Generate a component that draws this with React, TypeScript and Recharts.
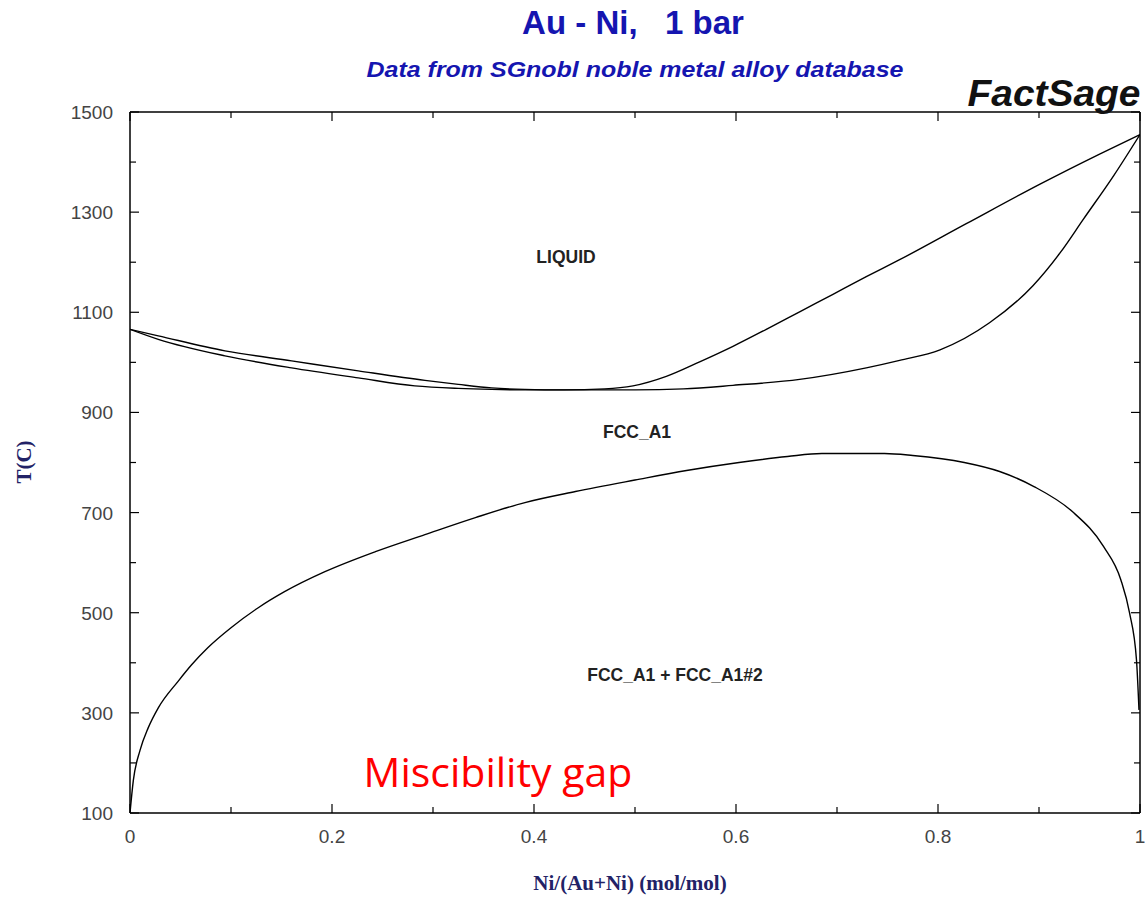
import { LineChart, Line, XAxis, YAxis } from 'recharts'

// phase boundaries: x = Ni/(Au+Ni), t = T(C)
const liquidus = [
  { x: 0, t: 1066 }, { x: 0.028, t: 1053 }, { x: 0.094, t: 1023 }, { x: 0.16, t: 1003 },
  { x: 0.226, t: 983 }, { x: 0.292, t: 964 }, { x: 0.325, t: 956 }, { x: 0.358, t: 949 },
  { x: 0.391, t: 946 }, { x: 0.43, t: 945 }, { x: 0.47, t: 947 }, { x: 0.498, t: 953 },
  { x: 0.531, t: 972 }, { x: 0.564, t: 1001 }, { x: 0.597, t: 1032 }, { x: 0.63, t: 1066 },
  { x: 0.663, t: 1101 }, { x: 0.696, t: 1136 }, { x: 0.729, t: 1171 }, { x: 0.762, t: 1205 },
  { x: 0.828, t: 1277 }, { x: 0.901, t: 1356 }, { x: 0.96, t: 1416 }, { x: 1, t: 1455 },
]

const solidus = [
  { x: 0, t: 1066 }, { x: 0.028, t: 1046 }, { x: 0.094, t: 1013 }, { x: 0.16, t: 989 },
  { x: 0.226, t: 969 }, { x: 0.282, t: 953 }, { x: 0.325, t: 948 }, { x: 0.358, t: 946 },
  { x: 0.4, t: 945 }, { x: 0.45, t: 945 }, { x: 0.5, t: 945 }, { x: 0.548, t: 947 },
  { x: 0.597, t: 954 }, { x: 0.663, t: 966 }, { x: 0.729, t: 989 }, { x: 0.762, t: 1004 },
  { x: 0.802, t: 1025 }, { x: 0.851, t: 1079 }, { x: 0.894, t: 1153 }, { x: 0.921, t: 1219 },
  { x: 0.944, t: 1286 }, { x: 0.974, t: 1373 }, { x: 1, t: 1455 },
]

const miscibilityGap = [
  { x: 0, t: 100 }, { x: 0.0033, t: 165 }, { x: 0.0099, t: 225 }, { x: 0.018, t: 270 },
  { x: 0.028, t: 310 }, { x: 0.048, t: 364 }, { x: 0.061, t: 396 }, { x: 0.077, t: 430 },
  { x: 0.1, t: 470 }, { x: 0.127, t: 510 }, { x: 0.153, t: 542 }, { x: 0.193, t: 582 },
  { x: 0.243, t: 622 }, { x: 0.292, t: 656 }, { x: 0.342, t: 690 }, { x: 0.391, t: 720 },
  { x: 0.441, t: 742 }, { x: 0.5, t: 765 }, { x: 0.551, t: 784 }, { x: 0.603, t: 800 },
  { x: 0.651, t: 812 }, { x: 0.685, t: 818 }, { x: 0.747, t: 818 }, { x: 0.775, t: 814 },
  { x: 0.826, t: 800 }, { x: 0.861, t: 782 }, { x: 0.895, t: 752 }, { x: 0.933, t: 702 },
  { x: 0.964, t: 632 }, { x: 0.981, t: 566 }, { x: 0.9896, t: 500 }, { x: 0.9965, t: 406 },
  { x: 0.999, t: 306 },
]

const xTicks = [0, 0.1, 0.2, 0.3, 0.4, 0.5, 0.6, 0.7, 0.8, 0.9, 1]
const xLabels: Record<string, string> = { '0': '0', '0.2': '0.2', '0.4': '0.4', '0.6': '0.6', '0.8': '0.8', '1': '1' }
const yTicks = [100, 200, 300, 400, 500, 600, 700, 800, 900, 1000, 1100, 1200, 1300, 1400, 1500]
const yLabels = [100, 300, 500, 700, 900, 1100, 1300, 1500]

const W = 1145
const H = 897
const tickFont = '"Liberation Sans", Arial, sans-serif'
const serif = '"Liberation Serif", "Times New Roman", serif'

const BottomTick = ({ x, y, payload }: any) => {
  const label = xLabels[String(payload.value)]
  return (
    <g>
      <line x1={x} x2={x} y1={y} y2={y - (label ? 9 : 6)} stroke="#000" strokeWidth={1.2} />
      {label && (
        <text x={x} y={y + 30} textAnchor="middle" fontSize={19} fontFamily={tickFont} fill="#444">
          {label}
        </text>
      )}
    </g>
  )
}

const TopTick = ({ x, y, payload }: any) => {
  const major = !!xLabels[String(payload.value)]
  return <line x1={x} x2={x} y1={y} y2={y + (major ? 9 : 6)} stroke="#000" strokeWidth={1.2} />
}

const LeftTick = ({ x, y, payload }: any) => {
  const major = yLabels.includes(payload.value)
  return (
    <g>
      <line x1={x} x2={x + (major ? 9 : 6)} y1={y} y2={y} stroke="#000" strokeWidth={1.2} />
      {major && (
        <text x={x - 17} y={y + 7} textAnchor="end" fontSize={19} fontFamily={tickFont} fill="#444">
          {payload.value}
        </text>
      )}
    </g>
  )
}

const RightTick = ({ x, y, payload }: any) => {
  const major = yLabels.includes(payload.value)
  return <line x1={x} x2={x - (major ? 9 : 6)} y1={y} y2={y} stroke="#000" strokeWidth={1.2} />
}

export default function App() {
  const axisLine = { stroke: '#000', strokeWidth: 1.5 }
  return (
    <div style={{ position: 'absolute', left: 0, top: 0, width: W, height: H, background: '#fff' }}>
      <LineChart width={W} height={H} margin={{ top: 111, right: 4, bottom: 83, left: 129 }}>
        <XAxis
          xAxisId="b" dataKey="x" type="number" domain={[0, 1]} ticks={xTicks} interval={0}
          height={1} tickSize={0} tickMargin={0} tickLine={false} axisLine={axisLine}
          tick={BottomTick} allowDataOverflow
        />
        <XAxis
          xAxisId="t" orientation="top" dataKey="x" type="number" domain={[0, 1]} ticks={xTicks}
          interval={0} height={1} tickSize={0} tickMargin={0} tickLine={false} axisLine={axisLine}
          tick={TopTick} allowDataOverflow
        />
        <YAxis
          yAxisId="l" type="number" domain={[100, 1500]} ticks={yTicks} interval={0}
          width={1} tickSize={0} tickMargin={0} tickLine={false} axisLine={axisLine}
          tick={LeftTick} allowDataOverflow
        />
        <YAxis
          yAxisId="r" orientation="right" type="number" domain={[100, 1500]} ticks={yTicks}
          interval={0} width={1} tickSize={0} tickMargin={0} tickLine={false} axisLine={axisLine}
          tick={RightTick} allowDataOverflow
        />
        <Line xAxisId="b" yAxisId="l" data={liquidus} dataKey="t" type="monotone" stroke="#000"
          strokeWidth={1.4} dot={false} isAnimationActive={false} />
        <Line xAxisId="b" yAxisId="l" data={solidus} dataKey="t" type="monotone" stroke="#000"
          strokeWidth={1.4} dot={false} isAnimationActive={false} />
        <Line xAxisId="b" yAxisId="l" data={miscibilityGap} dataKey="t" type="monotone" stroke="#000"
          strokeWidth={1.4} dot={false} isAnimationActive={false} />
      </LineChart>

      <svg width={W} height={H} style={{ position: 'absolute', left: 0, top: 0, pointerEvents: 'none' }}>
        <text x={633} y={34} textAnchor="middle" fontSize={33} fontWeight="bold"
          fontFamily={tickFont} fill="#1515b0">
          {'Au - Ni,\u00a0\u00a0\u00a01 bar'}
        </text>
        <text x={635} y={77} textAnchor="middle" fontSize={22} fontWeight="bold" fontStyle="italic"
          fontFamily={tickFont} fill="#1515b0" textLength={537} lengthAdjust="spacingAndGlyphs">
          Data from SGnobl noble metal alloy database
        </text>
        <text x={1054} y={106} textAnchor="middle" fontSize={36} fontWeight="bold" fontStyle="italic"
          fontFamily={tickFont} fill="#111" textLength={173} lengthAdjust="spacingAndGlyphs">
          FactSage
        </text>
        <text x={0} y={0} transform="translate(31,462) rotate(-90)" textAnchor="middle" fontSize={21}
          fontWeight="bold" fontFamily={serif} fill="#222266">
          T(C)
        </text>
        <text x={630} y={890} textAnchor="middle" fontSize={21} fontWeight="bold"
          fontFamily={serif} fill="#222266">
          Ni/(Au+Ni) (mol/mol)
        </text>
        <text x={566} y={263} textAnchor="middle" fontSize={17.5} fontWeight="bold" fontFamily={tickFont} fill="#222">
          LIQUID
        </text>
        <text x={637} y={438} textAnchor="middle" fontSize={17.5} fontWeight="bold" fontFamily={tickFont} fill="#222">
          FCC_A1
        </text>
        <text x={675} y={681} textAnchor="middle" fontSize={17.5} fontWeight="bold" fontFamily={tickFont} fill="#222">
          FCC_A1 + FCC_A1#2
        </text>
        <text x={498} y={787} textAnchor="middle" fontSize={41} fontFamily='"Open Sans", "Liberation Sans", sans-serif'
          fill="#ff0000">
          Miscibility gap
        </text>
      </svg>
    </div>
  )
}
